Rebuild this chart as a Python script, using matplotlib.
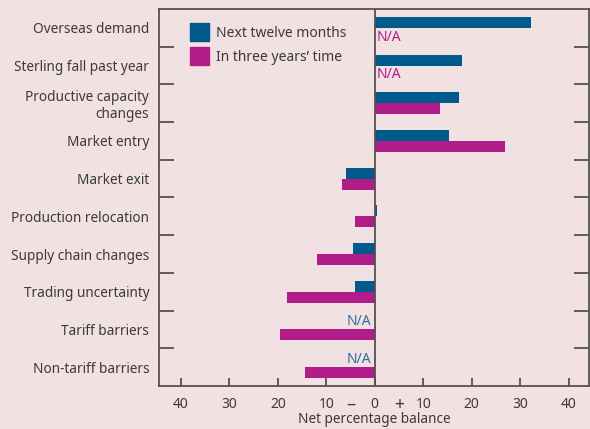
import numpy as np
import matplotlib
matplotlib.use("Agg")
import matplotlib.pyplot as plt
from matplotlib.patches import Patch

categories = ["Overseas demand", "Sterling fall past year",
              "Productive capacity\nchanges", "Market entry", "Market exit",
              "Production relocation", "Supply chain changes",
              "Trading uncertainty", "Tariff barriers", "Non-tariff barriers"]
next_twelve = [32.2, 18.1, 17.3, 15.3, -6.0, 0.4, -4.5, -4.1, None, None]
three_years = [None, None, 13.4, 26.8, -6.8, -4.1, -12.0, -18.1, -19.6, -14.4]
xticks = [-40, -30, -20, -10, 0, 10, 20, 30, 40]
xticklabels = ["40", "30", "20", "10", "0", "10", "20", "30", "40"]

bg = "#f2e1e2"
blue = "#005a8c"
magenta = "#b01c88"
dark = "#555050"
text_col = "#3a3a3a"

plt.rcParams.update({
    "font.family": ["Noto Sans", "DejaVu Sans"],
    "font.size": 9.8,
    "text.color": text_col,
    "axes.edgecolor": dark,
    "axes.linewidth": 1.3,
})

fig = plt.figure(figsize=(5.9, 4.29), dpi=100, facecolor=bg)
ax = fig.add_axes([159 / 590, 43 / 429, 430 / 590, 377 / 429], facecolor=bg)

y = np.arange(len(categories))
h = 0.29
off = 0.145
for i in range(len(categories)):
    if next_twelve[i] is not None:
        ax.barh(y[i] - off, next_twelve[i], height=h, color=blue, zorder=2)
    else:
        ax.text(-0.8, y[i] - 0.21, "N/A", color="#2d6e9e", ha="right",
                va="center", fontsize=10)
    if three_years[i] is not None:
        ax.barh(y[i] + off, three_years[i], height=h, color=magenta, zorder=2)
    else:
        ax.text(0.4, y[i] + 0.245, "N/A", color=magenta, ha="left",
                va="center", fontsize=10)

ax.axvline(0, color=dark, lw=1.3, zorder=3)
ax.set_xlim(-44.5, 44.2)
ax.set_ylim(len(categories) - 0.5, -0.5)

# separators between categories as inward ticks
ax.set_yticks(np.arange(0.5, len(categories) - 0.5, 1))
ax.set_yticklabels([])
ax.tick_params(axis="y", which="major", direction="in", length=11,
               width=1.3, color=dark, left=True, right=True)
ax.set_yticks(y, minor=True)
ax.set_yticklabels(categories, minor=True, ha="right", fontsize=9.8,
                   color=text_col, linespacing=1.15)
ax.tick_params(axis="y", which="minor", length=0, pad=7)

ax.set_xticks(xticks)
ax.set_xticklabels(xticklabels, fontsize=10, color=text_col)
ax.tick_params(axis="x", direction="in", length=6, width=1.3, color=dark,
               pad=8)
xt = ax.get_xaxis_transform()
ax.text(-5, -0.05, "\u2013", transform=xt, ha="center", va="center",
        fontsize=13)
ax.text(5, -0.05, "+", transform=xt, ha="center", va="center",
        fontsize=12.5)
ax.text(0, -0.07, "Net percentage balance", transform=xt, ha="center",
        va="top", fontsize=9.8)

handles = [Patch(color=blue, label="Next twelve months"),
           Patch(color=magenta, label="In three years\u2019 time")]
ax.legend(handles=handles, loc="upper left", bbox_to_anchor=(0.072, 0.962),
          frameon=False, fontsize=10, handlelength=1.4, handleheight=1.6,
          handletextpad=0.5, labelspacing=0.45, borderaxespad=0, borderpad=0)

fig.savefig("out.png", dpi=100, facecolor=bg)
